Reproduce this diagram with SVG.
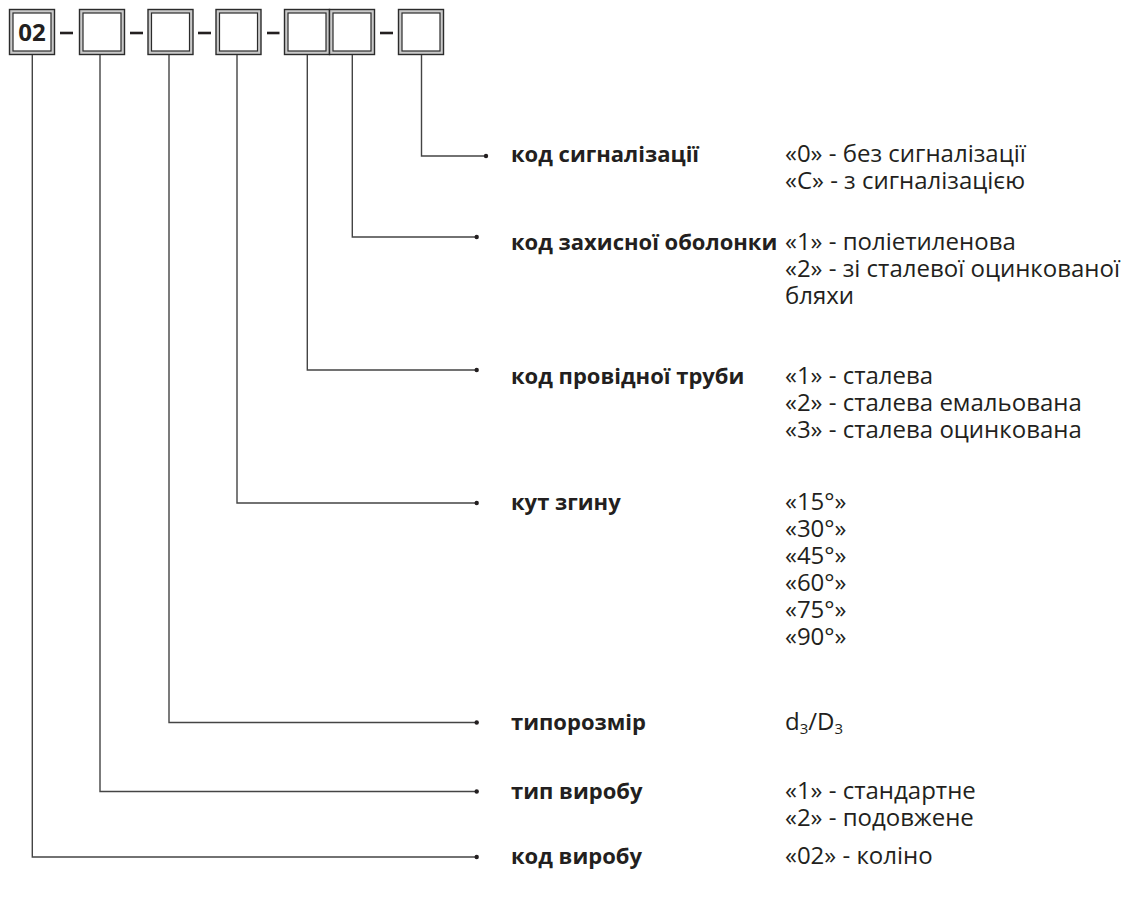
<svg xmlns="http://www.w3.org/2000/svg" width="1144" height="901" viewBox="0 0 1144 901">
<style>
.bo{fill:#c9c9c9;stroke:#2b2b2b;stroke-width:1.4}
.bi{fill:#fff;stroke:#2b2b2b;stroke-width:1.2}
.dash{stroke:#231f20;stroke-width:2.6}
.con{fill:none;stroke:#444;stroke-width:1.4}
.dot{fill:#231f20}
.lbl{font-family:"Open Sans","Noto Sans","DejaVu Sans",sans-serif;font-weight:bold;font-size:22px;fill:#231f20}
.val{font-family:"Open Sans","Noto Sans","DejaVu Sans",sans-serif;font-size:24px;fill:#231f20}
.code{font-family:"Open Sans","Noto Sans","DejaVu Sans",sans-serif;font-weight:bold;font-size:24px;fill:#231f20}
</style>
<defs>
<g id="box"><rect class="bo" x="0" y="0" width="45" height="45"/><rect class="bi" x="3.5" y="3.5" width="38" height="38"/></g>
</defs>
<g id="code-boxes">
<g id="box1"><use href="#box" x="9.5" y="9.5"/><text class="code" x="32" y="41" text-anchor="middle">02</text></g>
<g id="box2"><use href="#box" x="79.5" y="9.5"/></g>
<g id="box3"><use href="#box" x="148" y="9.5"/></g>
<g id="box4"><use href="#box" x="216" y="9.5"/></g>
<g id="box5"><use href="#box" x="284.5" y="9.5"/></g>
<g id="box6"><use href="#box" x="329.5" y="9.5"/></g>
<g id="box7"><use href="#box" x="398.5" y="9.5"/></g>
<g id="dashes">
<line class="dash" x1="60" y1="33" x2="73" y2="33"/>
<line class="dash" x1="130" y1="33" x2="143" y2="33"/>
<line class="dash" x1="198" y1="33" x2="211" y2="33"/>
<line class="dash" x1="267" y1="33" x2="279.5" y2="33"/>
<line class="dash" x1="380" y1="33" x2="393" y2="33"/>
</g>
</g>
<g id="connectors">
<polyline class="con" points="421.5,55 421.5,156 486,156"/><circle class="dot" cx="486" cy="156" r="2.2"/>
<polyline class="con" points="352.3,55 352.3,237 476.7,237"/><circle class="dot" cx="476.7" cy="237" r="2.2"/>
<polyline class="con" points="307.3,55 307.3,370 476.7,370"/><circle class="dot" cx="476.7" cy="370" r="2.2"/>
<polyline class="con" points="237,55 237,503 476.7,503"/><circle class="dot" cx="476.7" cy="503" r="2.2"/>
<polyline class="con" points="169,55 169,722.5 476.7,722.5"/><circle class="dot" cx="476.7" cy="722.5" r="2.2"/>
<polyline class="con" points="100,55 100,791.5 476.7,791.5"/><circle class="dot" cx="476.7" cy="791.5" r="2.2"/>
<polyline class="con" points="32.3,55 32.3,857 476.7,857"/><circle class="dot" cx="476.7" cy="857" r="2.2"/>
</g>
<g id="signal">
<text class="lbl" x="511" y="162">код сигналізації</text>
<text class="val" x="785" y="162">«0» - без сигналізації</text>
<text class="val" x="785" y="189">«С» - з сигналізацією</text>
</g>
<g id="shell">
<text class="lbl" x="511" y="250">код захисної оболонки</text>
<text class="val" x="785" y="250">«1» - поліетиленова</text>
<text class="val" x="785" y="277">«2» - зі сталевої оцинкованої</text>
<text class="val" x="785" y="304">бляхи</text>
</g>
<g id="pipe">
<text class="lbl" x="511" y="384">код провідної труби</text>
<text class="val" x="785" y="384">«1» - сталева</text>
<text class="val" x="785" y="411">«2» - сталева емальована</text>
<text class="val" x="785" y="438">«3» - сталева оцинкована</text>
</g>
<g id="angle">
<text class="lbl" x="511" y="510">кут згину</text>
<text class="val" x="785" y="510">«15°»</text>
<text class="val" x="785" y="537">«30°»</text>
<text class="val" x="785" y="564">«45°»</text>
<text class="val" x="785" y="591">«60°»</text>
<text class="val" x="785" y="618">«75°»</text>
<text class="val" x="785" y="645">«90°»</text>
</g>
<g id="size">
<text class="lbl" x="511" y="730">типорозмір</text>
<text class="val" x="785" y="730">d<tspan font-size="15" dy="4">3</tspan><tspan dy="-4">/D</tspan><tspan font-size="15" dy="4">3</tspan></text>
</g>
<g id="type">
<text class="lbl" x="511" y="799">тип виробу</text>
<text class="val" x="785" y="799">«1» - стандартне</text>
<text class="val" x="785" y="826">«2» - подовжене</text>
</g>
<g id="product">
<text class="lbl" x="511" y="864">код виробу</text>
<text class="val" x="785" y="864">«02» - коліно</text>
</g>
</svg>
